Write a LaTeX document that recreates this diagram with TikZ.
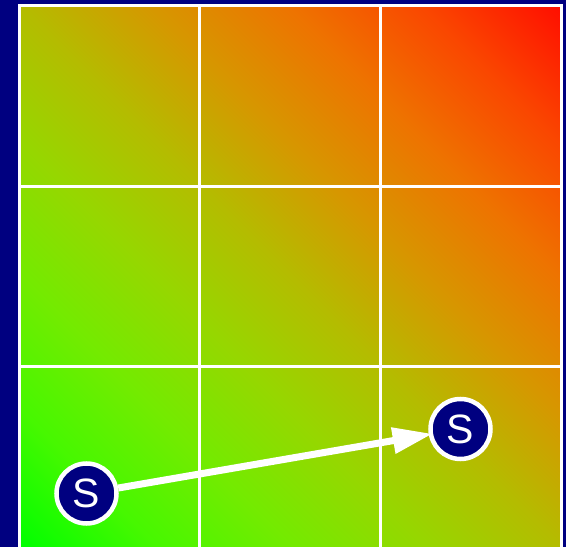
\documentclass[tikz,border=0pt]{standalone}
\usepackage{fontspec}
\setmainfont{Liberation Sans}
\usetikzlibrary{arrows.meta}
\definecolor{bgnavy}{RGB}{0,0,128}
\definecolor{g0}{RGB}{0,255,0}
\definecolor{g1}{RGB}{70,248,0}
\definecolor{g2}{RGB}{115,235,0}
\definecolor{g3}{RGB}{150,215,0}
\definecolor{g4}{RGB}{180,188,0}
\definecolor{g5}{RGB}{215,150,0}
\definecolor{g6}{RGB}{238,115,0}
\definecolor{g7}{RGB}{250,70,0}
\definecolor{g8}{RGB}{255,15,0}
\pgfdeclarehorizontalshading{riskdiag}{100bp}{color(0bp)=(g0); color(14.64bp)=(g0); color(23.48bp)=(g1); color(32.32bp)=(g2); color(41.16bp)=(g3); color(50bp)=(g4); color(58.84bp)=(g5); color(67.68bp)=(g6); color(76.52bp)=(g7); color(85.36bp)=(g8); color(100bp)=(g8)}
\tikzset{
  snode/.style={circle, fill=bgnavy, draw=white, line width=4.5pt, minimum size=60pt, inner sep=0pt, text=white, font=\fontsize{41}{41}\selectfont},
  gridline/.style={draw=white, line width=3pt},
  moveline/.style={draw=white, line width=7pt, -{Triangle[length=40pt,width=25pt]}, shorten >=-4pt}
}
\begin{document}
\begin{tikzpicture}[x=1pt,y=1pt]
\useasboundingbox (0,0) rectangle (566,547);
\fill[bgnavy] (0,0) rectangle (566,547);
\shade[shading=riskdiag, shading angle=45] (19,-0.5) rectangle (561,541.5);
% grid
\draw[gridline] (19,-5) -- (19,541.5) -- (561,541.5) -- (561,-5);
\draw[gridline] (199.67,-5) -- (199.67,541.5);
\draw[gridline] (380.33,-5) -- (380.33,541.5);
\draw[gridline] (19,360.83) -- (561,360.83);
\draw[gridline] (19,180.17) -- (561,180.17);
% nodes
\node[snode] (s1) at (86.5,53.5) {S};
\node[snode] (s2) at (460.5,118) {S};
\draw[moveline] (s1) -- (s2);
\end{tikzpicture}
\end{document}
